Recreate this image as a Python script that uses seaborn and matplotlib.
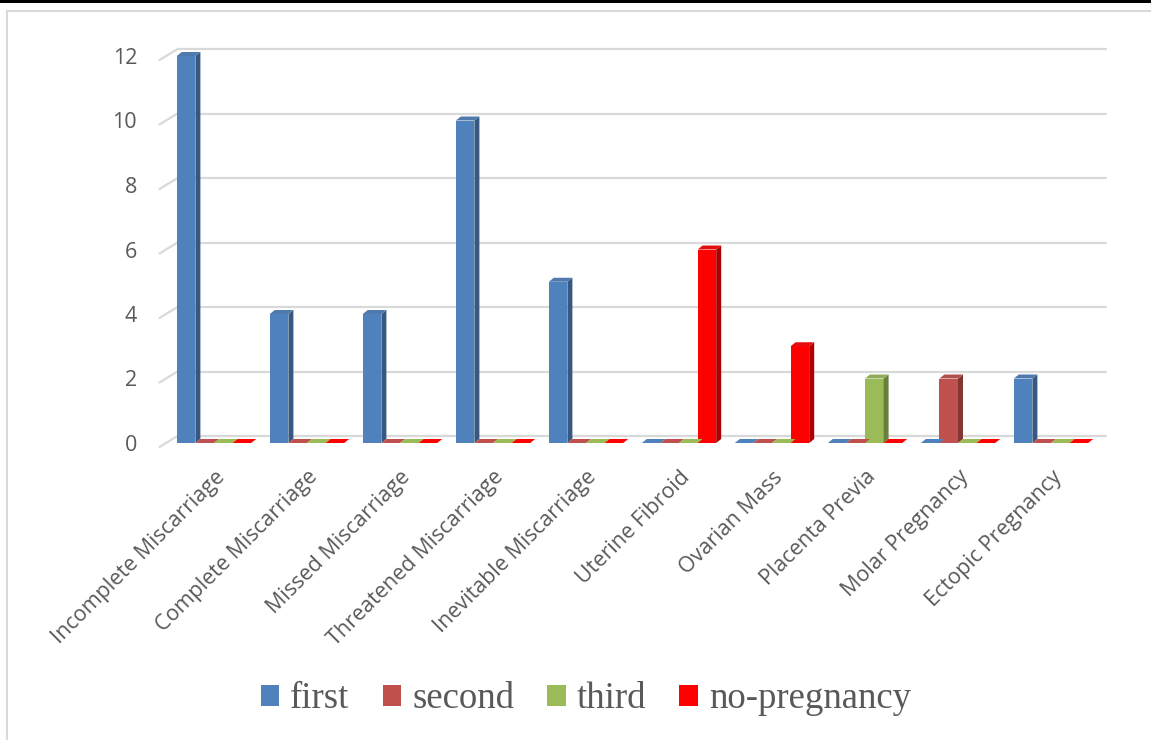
import matplotlib
matplotlib.use("Agg")
import matplotlib.pyplot as plt
import matplotlib.colors as mcolors
from matplotlib.patches import Rectangle, Polygon, Patch
from matplotlib.lines import Line2D
import numpy as np
import pandas as pd
import seaborn as sns

categories = ["Incomplete Miscarriage", "Complete Miscarriage", "Missed Miscarriage",
              "Threatened Miscarriage", "Inevitable Miscarriage", "Uterine Fibroid",
              "Ovarian Mass", "Placenta Previa", "Molar Pregnancy", "Ectopic Pregnancy"]
series_names = ["first", "second", "third", "no-pregnancy"]
first = [12, 4, 4, 10, 5, 0, 0, 0, 0, 2]
second = [0, 0, 0, 0, 0, 0, 0, 0, 2, 0]
third = [0, 0, 0, 0, 0, 0, 0, 2, 0, 0]
no_pregnancy = [0, 0, 0, 0, 0, 6, 3, 0, 0, 0]
y_ticks = [0, 2, 4, 6, 8, 10, 12]
colors = ["#4F81BD", "#C0504D", "#9BBB59", "#FF0000"]

df = pd.DataFrame({
    "category": categories * 4,
    "series": sum([[s] * len(categories) for s in series_names], []),
    "value": first + second + third + no_pregnancy,
})

sns.set_theme(style="white")
plt.rcParams["font.family"] = ["Open Sans", "DejaVu Sans"]

W, H, DPI = 1151, 740, 100
fig = plt.figure(figsize=(W / DPI, H / DPI), dpi=DPI)
fig.patch.set_facecolor("white")

L, R, B, T = 167.5, 1097.5, 443, 56
ax = fig.add_axes([L / W, (H - B) / H, (R - L) / W, (B - T) / H])
ax.set_facecolor("none")

sns.barplot(data=df, x="category", y="value", hue="series", hue_order=series_names,
            palette=colors, saturation=1, width=0.8, gap=0, legend=False,
            linewidth=0, ax=ax)

ax.set_xlim(-0.5, len(categories) - 0.5)
ax.set_ylim(0, 12)
for s in ax.spines.values():
    s.set_visible(False)
ax.set_xlabel("")
ax.set_ylabel("")
ax.set_yticks(y_ticks)
ax.tick_params(axis="both", length=0)
ax.tick_params(axis="y", pad=22, labelsize=15.5, labelcolor="#595959")
ax.tick_params(axis="x", pad=17, labelsize=15.5, labelcolor="#595959")
ax.set_xticks(range(len(categories)))
ax.set_xticklabels(categories, rotation=45, ha="right", rotation_mode="anchor")
ax.grid(False)

# pixel <-> data helpers for the pseudo-3D faces
to_disp = ax.transData
to_data = ax.transData.inverted()

def poly_px(points, **kw):
    pts = to_data.transform(points)
    ax.add_patch(Polygon(pts, closed=True, clip_on=False, transform=ax.transData, **kw))

# back-wall gridlines with short floor stubs
x_left, x_right = ax.get_xlim()
for v in y_ticks:
    (xl, yv) = to_disp.transform((x_left, v))
    (xr, _) = to_disp.transform((x_right, v))
    back_y = yv + 7
    gl = to_data.transform([(xl + 10, back_y), (xr + 8, back_y)])
    ax.add_line(Line2D(gl[:, 0], gl[:, 1], color="#d9d9d9", lw=1.6, clip_on=False, zorder=0))
    st = to_data.transform([(xl + 10, back_y), (xl - 8, yv - 4)])
    ax.add_line(Line2D(st[:, 0], st[:, 1], color="#d9d9d9", lw=1.6, clip_on=False, zorder=0))

# side and top faces give each column its depth
dx, dy = 5, 4
for p in list(ax.patches):
    if not isinstance(p, Rectangle):
        continue
    x0, y0 = p.get_x(), p.get_y()
    w, h = p.get_width(), p.get_height()
    fc = np.array(mcolors.to_rgb(p.get_facecolor()))
    dark = tuple(fc * 0.68)
    mid = tuple(np.clip(fc * 0.85 + 0.05, 0, 1))
    (px0, py0) = to_disp.transform((x0, y0))
    (px1, py1) = to_disp.transform((x0 + w, y0 + h))
    if h > 0:
        poly_px([(px1, py0), (px1, py1), (px1 + dx, py1 + dy), (px1 + dx, py0 + dy)],
                facecolor=dark, edgecolor="none", zorder=3)
        poly_px([(px0, py1), (px1, py1), (px1 + dx, py1 + dy), (px0 + dx, py1 + dy)],
                facecolor=mid, edgecolor="none", zorder=3)
    else:
        poly_px([(px0, py0), (px1, py0), (px1 + dx, py0 + dy), (px0 + dx, py0 + dy)],
                facecolor=tuple(fc), edgecolor="none", zorder=3)

# legend
handles = [Patch(facecolor=c, edgecolor="none") for c in colors]
fig.legend(handles, series_names, loc="center", bbox_to_anchor=(0.509, (H - 699) / H),
           ncol=4, frameon=False, handlelength=0.5, handleheight=0.5,
           handletextpad=0.3, columnspacing=0.9,
           prop={"family": "Liberation Serif", "size": 26.5}, labelcolor="#595959")

# chart frame and top rule
fig.add_artist(Rectangle((7 / W, -0.05), 1.2, (H - 11) / H + 0.05, transform=fig.transFigure,
                         fill=False, edgecolor="#d9d9d9", lw=1.5))
fig.add_artist(Rectangle((0, 1 - 3 / H), 1, 3 / H, transform=fig.transFigure,
                         facecolor="black", edgecolor="none"))

fig.savefig("out.png", dpi=DPI)
